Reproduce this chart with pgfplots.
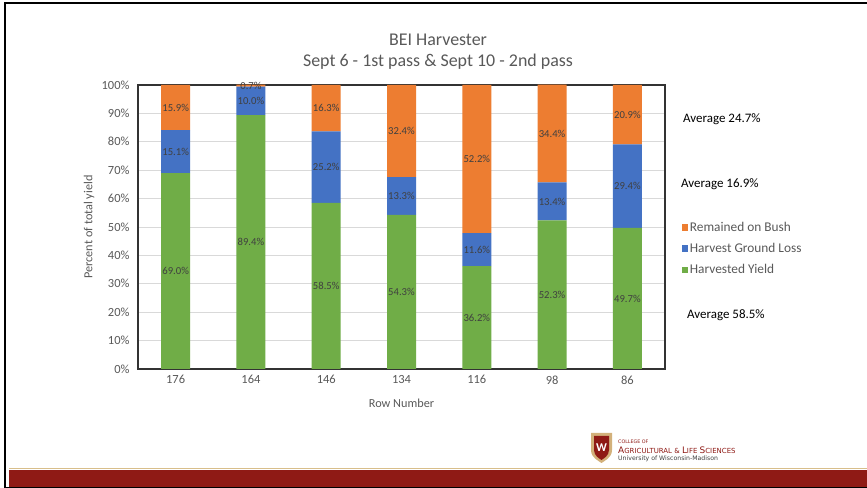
\documentclass[border=0pt]{standalone}
\usepackage{fontspec}
\setmainfont{Carlito}
\newfontfamily\logofont{DejaVu Sans}
\usepackage{pgfplots}
\usepackage{pgfplotstable}
\pgfplotsset{compat=1.18}
\definecolor{cgreen}{HTML}{70AD47}
\definecolor{cblue}{HTML}{4472C4}
\definecolor{corange}{HTML}{ED7D31}
\definecolor{ctext}{HTML}{595959}
\definecolor{clabel}{HTML}{404040}
\definecolor{uwred}{HTML}{8F1A15}
\definecolor{uwgold}{HTML}{D8BE8A}
\pgfplotstableread{
x row yield loss bush
0 176 69.0 15.1 15.9
1 164 89.4 10.0 0.7
2 146 58.5 25.2 16.3
3 134 54.3 13.3 32.4
4 116 36.2 11.6 52.2
5 98 52.3 13.4 34.4
6 86 49.7 29.4 20.9
}\datatable
\pgfplotsset{
  myaxis/.style={scale only axis, width=527bp, height=284bp,
    xmin=-0.5, xmax=6.5, ymin=0, ymax=100,
    at={(138bp,119bp)}, anchor=south west,
    /pgf/number format/assume math mode=true},
  lbl/.style={draw=none, mark=none, forget plot,
    nodes near coords={\pgfmathprintnumber[fixed,fixed zerofill,precision=1]{\pgfplotspointmeta}\%},
    point meta=explicit,
    every node near coord/.append style={anchor=center, inner sep=0pt,
      font=\fontsize{10.7}{12}\selectfont, text=clabel}},
}
\begin{document}
\begin{tikzpicture}[x=1bp,y=1bp]
\path[use as bounding box, fill=white] (0,0) rectangle (867,488);
% slide decorations
\fill[uwred] (9,0) rectangle (867,18);
\draw[uwgold, line width=1.5bp] (9,19.5) -- (867,19.5);
\draw[black, line width=2.5bp] (5,0) -- (5,485) -- (867,485);
\draw[black, line width=1.5bp] (5,0.7) -- (867,0.7);
% title
\node[text=ctext, font=\fontsize{18}{21}\selectfont] at (438,448) {BEI Harvester};
\node[text=ctext, font=\fontsize{18}{21}\selectfont] at (438,426) {Sept 6 - 1st pass \& Sept 10 - 2nd pass};
% averages
\node[anchor=west, inner sep=0pt, font=\fontsize{13}{15}\selectfont] at (683,369) {Average 24.7\%};
\node[anchor=west, inner sep=0pt, font=\fontsize{13}{15}\selectfont] at (681,304) {Average 16.9\%};
\node[anchor=west, inner sep=0pt, font=\fontsize{13}{15}\selectfont] at (687,173) {Average 58.5\%};
% logo
\fill[uwgold!80!brown] (591,55) -- (612,55) -- (612,38) .. controls (612,30) and (604,27) .. (601.5,25) .. controls (599,27) and (591,30) .. (591,38) -- cycle;
\fill[uwred] (594,52) -- (609,52) -- (609,38) .. controls (609,32) and (603.5,29.5) .. (601.5,28) .. controls (599.5,29.5) and (594,32) .. (594,38) -- cycle;
\node[text=white, font=\bfseries\fontsize{12}{13}\selectfont] at (601.5,40) {W};
\node[anchor=base west, text=uwred, inner sep=0pt, font=\logofont\fontsize{4.8}{5}\selectfont] at (618,44.5) {COLLEGE OF};
\node[anchor=base west, text=uwred, inner sep=0pt] at (618,34.5) {\logofont\fontsize{9}{10}\selectfont A\fontsize{7}{8}\selectfont GRICULTURAL \& \fontsize{9}{10}\selectfont L\fontsize{7}{8}\selectfont IFE \fontsize{9}{10}\selectfont S\fontsize{7}{8}\selectfont CIENCES};
\node[anchor=base west, text=black!75, inner sep=0pt, font=\logofont\fontsize{6.2}{7}\selectfont] at (618,27.5) {University of Wisconsin-Madison};
\begin{axis}[myaxis,
  ybar stacked, bar width=29bp,
  xtick={0,...,6}, xticklabels={176,164,146,134,116,98,86},
  ytick={0,10,...,100},
  yticklabel={\pgfmathprintnumber{\tick}\%},
  ymajorgrids, grid style={draw=black!15, line width=0.8bp},
  major tick length=0pt,
  axis line style={draw=black!80, line width=1.3bp},
  tick label style={font=\fontsize{12.5}{14}\selectfont, text=ctext},
  xticklabel style={yshift=-3bp},
  yticklabel style={xshift=-5bp},
  label style={font=\fontsize{12.3}{14}\selectfont, text=ctext},
  xlabel={Row Number}, ylabel={Percent of total yield},
  xlabel style={at={(axis description cs:0.5,-0.12)}, anchor=center},
  ylabel style={at={(axis description cs:-0.093,0.5)}, anchor=center},
  reverse legend,
  legend style={draw=none, fill=none, at={(axis description cs:1.026,0.4236)}, anchor=west,
    font=\fontsize{13.4}{15}\selectfont, text=ctext, row sep=7.5bp,
    nodes={inner sep=1.5bp}},
  legend cell align=left,
  legend image code/.code={\draw[#1, draw=none] (0.5bp,-3.2bp) rectangle (7bp,3.2bp);},
]
\addplot[fill=cgreen, draw=none] table[x=x, y=yield] {\datatable};
\addplot[fill=cblue, draw=none] table[x=x, y=loss] {\datatable};
\addplot[fill=corange, draw=none] table[x=x, y=bush] {\datatable};
\legend{Harvested Yield, Harvest Ground Loss, Remained on Bush}
\end{axis}
\begin{axis}[myaxis, hide axis]
\addplot[lbl] table[x=x, y expr=\thisrow{yield}/2, meta=yield] {\datatable};
\addplot[lbl] table[x=x, y expr=\thisrow{yield}+\thisrow{loss}/2, meta=loss] {\datatable};
\addplot[lbl] table[x=x, y expr=\thisrow{yield}+\thisrow{loss}+\thisrow{bush}/2, meta=bush] {\datatable};
\end{axis}
\end{tikzpicture}
\end{document}
